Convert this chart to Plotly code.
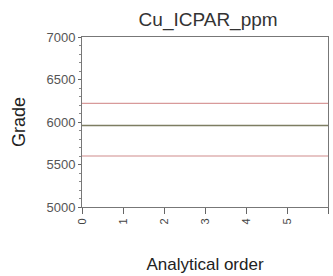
import plotly.graph_objects as go

x_range = [0, 6]
upper_limit = [6220, 6220]
mean_line = [5960, 5960]
lower_limit = [5600, 5600]
y_ticks = [5000, 5500, 6000, 6500, 7000]
x_ticks = [0, 1, 2, 3, 4, 5, 6]

fig = go.Figure()
fig.add_trace(go.Scatter(x=x_range, y=upper_limit, mode="lines",
                         line=dict(color="#d89a9a", width=1.2), showlegend=False))
fig.add_trace(go.Scatter(x=x_range, y=mean_line, mode="lines",
                         line=dict(color="#7d7d62", width=1.5), showlegend=False))
fig.add_trace(go.Scatter(x=x_range, y=lower_limit, mode="lines",
                         line=dict(color="#d08c8c", width=1.2), showlegend=False))

fig.update_layout(
    width=333, height=276,
    margin=dict(l=82, r=5, t=37, b=69),
    paper_bgcolor="white", plot_bgcolor="white",
    font=dict(family="Liberation Sans, Arial", color="#333"),
    title=dict(text="Cu_ICPAR_ppm", x=0.625, xanchor="center",
               y=0.93, yanchor="middle",
               font=dict(size=19, color="#333")),
    xaxis=dict(range=[0, 6], tickvals=x_ticks, tickangle=-90,
               ticks="outside", ticklen=6, tickcolor="#666",
               showline=True, linecolor="#777", mirror=True,
               showgrid=False, zeroline=False,
               tickfont=dict(size=11, color="#444"),
               title=dict(text="Analytical order", font=dict(size=17, color="#222"),
                          standoff=34)),
    yaxis=dict(range=[5000, 7000], tickvals=y_ticks,
               ticks="outside", ticklen=3, tickcolor="#666",
               minor=dict(ticks="outside", ticklen=2, dtick=100, tickcolor="#888"),
               showline=True, linecolor="#777", mirror=True,
               showgrid=False, zeroline=False,
               tickfont=dict(size=13, color="#555"),
               title=dict(text="Grade", font=dict(size=18, color="#222"),
                          standoff=16)),
)

fig.write_html("out.html", config={"displayModeBar": False},
               post_script="document.body.style.margin='0';")
